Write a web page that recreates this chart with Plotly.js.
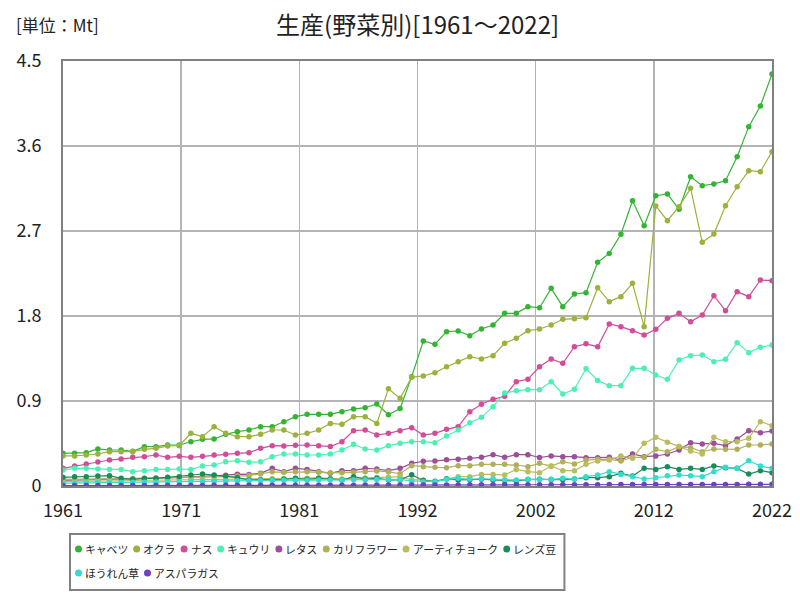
<!DOCTYPE html>
<html><head><meta charset="utf-8">
<script src="https://cdn.plot.ly/plotly-3.0.1.min.js"></script>
<style>html,body{margin:0;padding:0;background:#fff}</style>
</head><body><div id="chart" style="width:800px;height:600px"></div>
<script>
const years = [1961,1962,1963,1964,1965,1966,1967,1968,1969,1970,1971,1972,1973,1974,1975,1976,1977,1978,1979,1980,
1981,1982,1983,1984,1985,1986,1987,1988,1989,1990,1991,1992,1993,1994,1995,1996,1997,1998,1999,2000,
2001,2002,2003,2004,2005,2006,2007,2008,2009,2010,2011,2012,2013,2014,2015,2016,2017,2018,2019,2020,2021,2022];

const seriesNames = ['キャベツ','オクラ','ナス','キュウリ','レタス','カリフラワー','アーティチョーク','レンズ豆','ほうれん草','アスパラガス'];
const seriesColors = ['#33b533','#9bb23b','#d14d99','#4df0b4','#9e4d99','#b0b05a','#bbbb5f','#1a8c5c','#33dccc','#6e3fc7'];

const cabbage = [0.346,0.346,0.353,0.392,0.381,0.381,0.367,0.416,0.416,0.434,0.434,0.469,0.494,0.498,0.547,0.575,0.593,0.628,0.628,0.681,0.734,0.759,
0.759,0.759,0.787,0.815,0.829,0.868,0.755,0.820,1.158,1.535,1.500,1.634,1.641,1.592,1.662,1.705,1.828,1.828,
1.899,1.888,2.093,1.899,2.033,2.047,2.368,2.463,2.665,3.021,2.756,3.074,3.092,2.930,3.275,3.180,3.198,3.233,3.487,3.805,4.024,4.363];

const okra = [0.318,0.318,0.328,0.339,0.363,0.363,0.363,0.388,0.399,0.424,0.427,0.558,0.522,0.628,0.558,0.522,0.522,0.547,0.593,0.593,0.540,0.558,
0.593,0.663,0.653,0.734,0.734,0.663,1.030,0.928,1.151,1.165,1.200,1.263,1.316,1.369,1.345,1.380,1.511,1.564,
1.645,1.662,1.705,1.765,1.772,1.782,2.100,1.952,2.005,2.146,1.687,2.965,2.809,2.958,3.152,2.580,2.668,2.968,3.169,3.339,3.328,3.540];

const eggplant = [0.187,0.212,0.233,0.254,0.275,0.286,0.304,0.311,0.328,0.304,0.314,0.304,0.314,0.328,0.335,0.346,0.353,0.399,0.427,0.424,0.431,0.434,
0.427,0.417,0.469,0.586,0.593,0.540,0.558,0.586,0.618,0.540,0.558,0.600,0.628,0.787,0.865,0.918,0.950,1.105,
1.130,1.263,1.345,1.299,1.475,1.505,1.475,1.715,1.687,1.645,1.599,1.659,1.775,1.828,1.740,1.811,2.015,1.856,2.058,2.005,2.181,2.174];

const cucumber = [0.169,0.187,0.187,0.180,0.176,0.176,0.152,0.162,0.176,0.176,0.180,0.176,0.212,0.222,0.257,0.268,0.251,0.257,0.311,0.339,0.339,0.328,
0.328,0.339,0.381,0.441,0.392,0.381,0.427,0.452,0.469,0.469,0.459,0.529,0.593,0.670,0.727,0.840,0.985,1.008,
1.020,1.020,1.105,0.974,1.024,1.242,1.118,1.062,1.062,1.246,1.246,1.175,1.130,1.334,1.380,1.387,1.316,1.341,1.518,1.412,1.468,1.493];

const lettuce = [0.060,0.062,0.065,0.068,0.070,0.072,0.075,0.078,0.080,0.085,0.090,0.095,0.100,0.105,0.115,0.125,
0.123,0.134,0.187,0.152,0.187,0.176,0.152,0.134,0.162,0.162,0.187,0.180,0.162,0.187,
0.240,0.262,0.265,0.278,0.284,0.293,0.304,0.332,0.304,0.332,0.332,0.302,
0.318,0.311,0.311,0.300,0.300,0.304,0.275,0.339,0.311,0.318,0.339,0.381,0.459,0.445,0.452,0.427,0.498,0.586,0.565,0.582];

const cauliflower = [0.070,0.070,0.072,0.075,0.075,0.078,0.080,0.080,0.085,0.085,0.090,0.090,0.095,0.100,0.100,0.105,0.110,0.130,0.150,0.145,
0.150,0.150,0.145,0.140,0.140,0.145,0.150,0.160,0.150,0.130,
0.215,0.205,0.198,0.194,0.215,0.215,0.229,0.229,0.229,0.222,0.205,0.240,
0.210,0.257,0.233,0.275,0.282,0.282,0.265,0.304,0.304,0.388,0.363,0.417,0.406,0.363,0.392,0.388,0.388,0.434,0.434,0.445];

const artichoke = [0.050,0.050,0.052,0.052,0.055,0.055,0.058,0.060,0.060,0.062,0.065,0.065,0.068,0.070,0.070,0.072,0.075,0.075,0.078,0.080,
0.080,0.082,0.085,0.080,0.075,0.080,0.085,0.090,0.095,0.099,
0.064,0.064,0.046,0.074,0.099,0.099,0.123,0.123,0.116,0.176,0.152,0.141,
0.212,0.162,0.162,0.229,0.265,0.275,0.318,0.293,0.452,0.515,0.462,0.417,0.371,0.339,0.515,0.469,0.469,0.505,0.681,0.639];

const lentil = [0.092,0.099,0.099,0.106,0.109,0.081,0.071,0.081,0.081,0.092,0.099,0.116,0.127,0.116,0.106,0.088,0.064,0.064,0.064,0.071,0.081,
0.071,0.081,0.074,0.064,0.099,0.074,0.081,0.064,0.064,0.120,0.058,0.050,0.076,0.064,0.066,0.072,0.064,0.055,0.053,0.068,0.072,
0.068,0.066,0.074,0.088,0.088,0.099,0.134,0.106,0.187,0.176,0.205,0.176,0.187,0.176,0.212,0.194,0.187,0.127,0.162,0.141];

const spinach = [0.030,0.030,0.032,0.035,0.035,0.038,0.040,0.040,0.042,0.045,
0.045,0.048,0.050,0.050,0.052,0.055,0.055,0.057,0.060,0.060,
0.062,0.062,0.064,0.064,0.064,0.066,0.066,0.068,0.070,0.070,
0.053,0.046,0.046,0.071,0.081,0.074,0.074,0.074,0.064,0.064,0.071,0.071,
0.071,0.081,0.074,0.099,0.116,0.152,0.123,0.099,0.074,0.088,0.109,0.116,0.109,0.099,0.152,0.198,0.187,0.268,0.212,0.187];

const asparagus = [0.004,0.004,0.004,0.005,0.005,0.005,0.005,0.005,0.006,0.006,0.006,0.006,0.006,0.007,0.007,0.007,0.007,0.008,0.008,0.008,
0.008,0.008,0.009,0.009,0.009,0.009,0.010,0.010,0.010,0.010,0.010,0.011,0.011,0.011,0.011,0.012,0.012,0.012,0.012,0.012,
0.013,0.013,0.013,0.013,0.014,0.014,0.014,0.015,0.015,0.015,0.015,0.016,0.016,0.016,0.016,0.017,0.017,0.017,0.017,0.018,0.018,0.018];

const seriesValues = [cabbage, okra, eggplant, cucumber, lettuce, cauliflower, artichoke, lentil, spinach, asparagus];

const xTickLabels = ['1961','1971','1981','1992','2002','2012','2022'];
const yTickValues = [0, 0.9, 1.8, 2.7, 3.6, 4.5];
const yTickLabels = ['0','0.9','1.8','2.7','3.6','4.5'];

const x0 = years[0], x1 = years[years.length - 1];
const xTickVals = xTickLabels.map((_, i) => x0 + i * (x1 - x0) / (xTickLabels.length - 1));

const traces = seriesValues.map((vals, i) => ({
  type: 'scatter', mode: 'lines+markers', name: seriesNames[i],
  x: years, y: vals,
  line: {color: seriesColors[i], width: 1.2},
  marker: {color: seriesColors[i], size: 5.5},
  showlegend: false
}));

// plot-area geometry in page pixels (used to place the legend box in paper coords)
const plotL = 63, plotR = 772, plotT = 61, plotB = 486;
const px2x = px => (px - plotL) / (plotR - plotL);
const py2y = py => (plotB - py) / (plotB - plotT);

const FONT = 'Noto Sans CJK JP';
const legendFontSize = 10.8, dotSize = 7;
const ctx = document.createElement('canvas').getContext('2d');
function textWidth(t, size) { ctx.font = size + 'px "' + FONT + '"'; return ctx.measureText(t).width; }

const legendRows = [[0,1,2,3,4,5,6,7],[8,9]];
const legendRowY = [549, 573];
const annotations = [
  {text: '[単位：Mt]', xref: 'paper', yref: 'paper', x: px2x(14), y: py2y(25), xanchor: 'left', yanchor: 'middle',
   showarrow: false, font: {size: 17, color: '#222222'}}
];
const shapes = [];
let legendRight = 0;
legendRows.forEach((row, r) => {
  let cx = 75;
  const cy = legendRowY[r];
  row.forEach(i => {
    shapes.push({type: 'circle', xref: 'paper', yref: 'paper',
      x0: px2x(cx), x1: px2x(cx + dotSize), y0: py2y(cy + dotSize / 2), y1: py2y(cy - dotSize / 2),
      fillcolor: seriesColors[i], line: {width: 0}});
    cx += dotSize + 2;
    const nw = textWidth(seriesNames[i], legendFontSize);
    annotations.push({text: seriesNames[i], xref: 'paper', yref: 'paper', x: px2x(cx), y: py2y(cy),
      xanchor: 'left', yanchor: 'middle', showarrow: false, borderpad: 0,
      font: {size: legendFontSize, color: '#222222'}});
    cx += nw + 6;
  });
  legendRight = Math.max(legendRight, cx);
});
shapes.push({type: 'rect', xref: 'paper', yref: 'paper', x0: px2x(70), x1: px2x(legendRight + 3),
             y0: py2y(590), y1: py2y(534), line: {color: '#808080', width: 2}, fillcolor: 'rgba(0,0,0,0)'});

const layout = {
  width: 800, height: 600,
  margin: {l: plotL, r: 800 - plotR, t: plotT, b: 600 - plotB, pad: 0},
  paper_bgcolor: '#ffffff', plot_bgcolor: '#ffffff',
  font: {family: FONT + ', sans-serif', color: '#222222'},
  title: {text: '生産(野菜別)[1961～2022]', font: {size: 24, color: '#222222'},
          xref: 'container', x: 0.522, xanchor: 'center', yref: 'container', y: 0.958, yanchor: 'middle'},
  xaxis: {range: [x0, x1], tickvals: xTickVals, ticktext: xTickLabels, tickfont: {size: 18},
          showgrid: true, gridcolor: '#b4b4b4', gridwidth: 1.5, zeroline: false,
          showline: true, linecolor: '#808080', linewidth: 2, mirror: true, ticks: '', ticklabelstandoff: 7},
  yaxis: {range: [0, 4.5], tickvals: yTickValues, ticktext: yTickLabels, tickfont: {size: 18},
          showgrid: true, gridcolor: '#b4b4b4', gridwidth: 1.5, zeroline: false,
          showline: true, linecolor: '#808080', linewidth: 2, mirror: true, ticks: '', ticklabelstandoff: 16},
  showlegend: false,
  annotations: annotations,
  shapes: shapes
};

Plotly.newPlot('chart', traces, layout, {displayModeBar: false, staticPlot: true});
</script>
</body></html>
